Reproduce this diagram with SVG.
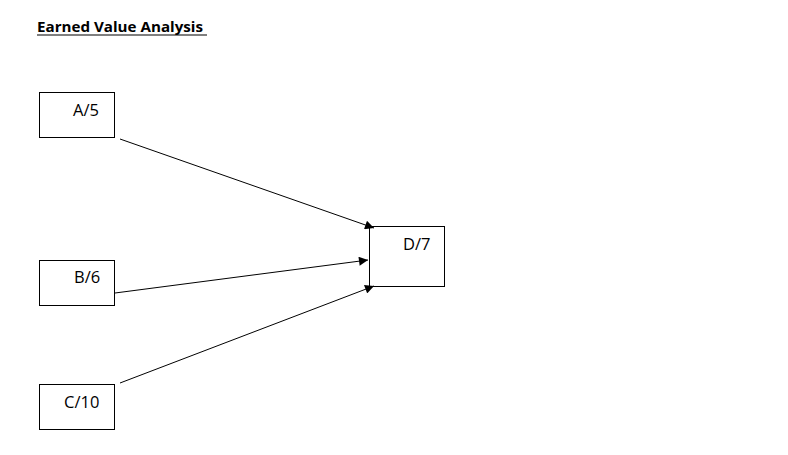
<svg xmlns="http://www.w3.org/2000/svg" width="788" height="455" viewBox="0 0 788 455">
<style>
.box{fill:#fff;stroke:#000;stroke-width:1}
.lbl{font-family:"Open Sans","Liberation Sans",Arial,sans-serif;font-size:16.5px;fill:#000}
.edge{stroke:#000;stroke-width:1;fill:none;marker-end:url(#ah)}
</style>
<defs>
<marker id="ah" viewBox="0 0 10 10" refX="10" refY="5" markerWidth="10" markerHeight="9" markerUnits="userSpaceOnUse" orient="auto">
<path d="M0,0 L10,5 L0,10 Z" fill="#000"/>
</marker>
</defs>
<rect width="788" height="455" fill="#fff"/>
<g id="title">
<text x="37" y="32" font-family="Open Sans,Liberation Sans,Arial,sans-serif" font-weight="bold" font-size="15" textLength="166" lengthAdjust="spacingAndGlyphs" fill="#000">Earned Value Analysis</text>
<line x1="37" y1="35" x2="207" y2="35" stroke="#000" stroke-width="1.2"/>
</g>
<g id="node-A"><rect class="box" x="39.5" y="92.5" width="75" height="45"/><text class="lbl" x="73" y="116">A/5</text></g>
<g id="node-B"><rect class="box" x="39.5" y="260.5" width="75" height="45"/><text class="lbl" x="74" y="283">B/6</text></g>
<g id="node-C"><rect class="box" x="39.5" y="384.5" width="75" height="45"/><text class="lbl" x="64" y="408">C/10</text></g>
<g id="node-D"><rect class="box" x="369.5" y="226.5" width="75" height="60"/><text class="lbl" x="403" y="250">D/7</text></g>
<g id="connectors">
<line class="edge" x1="120" y1="139" x2="374" y2="228"/>
<line class="edge" x1="115" y1="293" x2="368" y2="260"/>
<line class="edge" x1="120" y1="383" x2="374" y2="286"/>
</g>
</svg>
